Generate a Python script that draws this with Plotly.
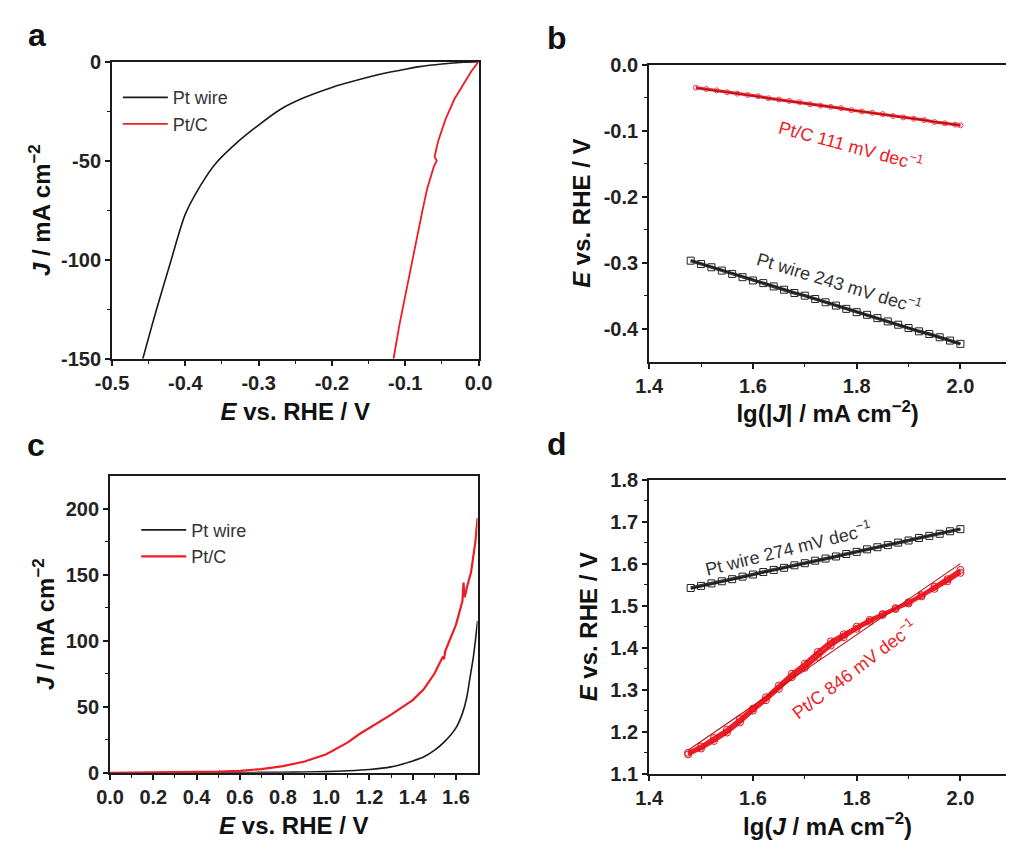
import plotly.graph_objects as go

# ---------------- panel a: HER polarization curves ----------------
a_e_wire = [0.0, -0.02, -0.05, -0.08, -0.10, -0.13, -0.16, -0.20, -0.24, -0.27,
            -0.30, -0.33, -0.36, -0.38, -0.40, -0.42, -0.44, -0.458]
a_j_wire = [0, -0.3, -1.2, -2.5, -3.8, -6.0, -8.8, -13.0, -18.5, -24,
            -32, -41, -52, -63, -77, -101, -126, -150]
a_e_ptc = [0.0, -0.01, -0.02, -0.033, -0.045, -0.055, -0.060, -0.057, -0.061,
           -0.07, -0.077, -0.085, -0.093, -0.10, -0.108, -0.116]
a_j_ptc = [0, -5, -11, -19, -29, -40, -48, -50, -53,
           -64, -76, -91, -106, -118, -133, -150]

# ---------------- panel b: HER Tafel plots ----------------
b_lg_wire = [1.48, 1.50, 1.52, 1.54, 1.56, 1.58, 1.60, 1.62, 1.64, 1.66, 1.68, 1.70,
             1.72, 1.74, 1.76, 1.78, 1.80, 1.82, 1.84, 1.86, 1.88, 1.90, 1.92, 1.94,
             1.96, 1.98, 2.00]
b_e_wire = [-0.297, -0.302, -0.307, -0.312, -0.317, -0.322, -0.327, -0.331, -0.336,
            -0.341, -0.346, -0.350, -0.355, -0.360, -0.365, -0.370, -0.375, -0.379,
            -0.384, -0.389, -0.394, -0.399, -0.404, -0.408, -0.413, -0.418, -0.423]
b_lg_ptc = [1.49, 1.51, 1.53, 1.55, 1.57, 1.59, 1.61, 1.63, 1.65, 1.67, 1.69, 1.71,
            1.73, 1.75, 1.77, 1.79, 1.81, 1.83, 1.85, 1.87, 1.89, 1.91, 1.93, 1.95,
            1.97, 1.99, 2.00]
b_e_ptc = [-0.035, -0.037, -0.039, -0.042, -0.044, -0.046, -0.048, -0.051, -0.053,
           -0.055, -0.057, -0.060, -0.062, -0.064, -0.066, -0.069, -0.071, -0.073,
           -0.075, -0.078, -0.080, -0.082, -0.084, -0.087, -0.089, -0.091, -0.092]
b_slope_wire = 243   # mV dec-1
b_slope_ptc = 111    # mV dec-1
b_fit_end_wire = -0.423   # fitted E at lg|J| = 2.0
b_fit_end_ptc = -0.092

# ---------------- panel c: OER polarization curves ----------------
c_e_wire = [0.0, 0.2, 0.4, 0.6, 0.8, 0.9, 1.0, 1.1, 1.2, 1.3, 1.35, 1.4, 1.45, 1.5,
            1.55, 1.6, 1.63, 1.65, 1.665, 1.68, 1.69, 1.70]
c_j_wire = [0, 0.05, 0.1, 0.2, 0.4, 0.6, 0.9, 1.5, 2.5, 4.5, 6.5, 9, 12, 17,
            24, 34, 45, 57, 72, 87, 100, 115]
c_e_ptc = [0.0, 0.2, 0.4, 0.5, 0.6, 0.7, 0.8, 0.9, 1.0, 1.1, 1.15, 1.2, 1.3, 1.4,
           1.45, 1.5, 1.54, 1.545, 1.55, 1.6, 1.63, 1.635, 1.64, 1.645, 1.65, 1.67,
           1.69, 1.70]
c_j_ptc = [0, 0.2, 0.5, 0.9, 1.5, 2.8, 5, 8.5, 14, 23, 29, 34, 44, 55,
           63, 75, 88, 86, 92, 112, 130, 144, 133, 136, 140, 152, 175, 193]

# ---------------- panel d: OER Tafel plots ----------------
d_lg_wire = [1.48, 1.50, 1.52, 1.54, 1.56, 1.58, 1.60, 1.62, 1.64, 1.66, 1.68, 1.70,
             1.72, 1.74, 1.76, 1.78, 1.80, 1.82, 1.84, 1.86, 1.88, 1.90, 1.92, 1.94,
             1.96, 1.98, 2.00]
d_e_wire = [1.542, 1.547, 1.553, 1.558, 1.563, 1.569, 1.574, 1.580, 1.585, 1.590,
            1.596, 1.601, 1.607, 1.612, 1.617, 1.623, 1.628, 1.634, 1.639, 1.644,
            1.650, 1.655, 1.661, 1.666, 1.671, 1.677, 1.682]
d_lg_ptc = [1.475, 1.50, 1.525, 1.55, 1.575, 1.60, 1.625, 1.65, 1.675, 1.70, 1.725,
            1.75, 1.775, 1.80, 1.825, 1.85, 1.875, 1.90, 1.925, 1.95, 1.975, 2.0]
d_e_ptc_scan1 = [1.146, 1.160, 1.178, 1.198, 1.222, 1.250, 1.275, 1.302, 1.330, 1.352,
                 1.378, 1.405, 1.425, 1.445, 1.462, 1.478, 1.492, 1.505, 1.522, 1.540,
                 1.558, 1.578]
d_e_ptc_scan2 = [1.150, 1.165, 1.185, 1.205, 1.230, 1.255, 1.282, 1.310, 1.338, 1.362,
                 1.390, 1.415, 1.432, 1.450, 1.466, 1.480, 1.494, 1.508, 1.525, 1.545,
                 1.563, 1.585]
d_slope_wire = 274   # mV dec-1
d_slope_ptc = 846    # mV dec-1
d_fit_end_wire = 1.683
d_fit_end_ptc = 1.600

# ---------------- tick labels ----------------
a_xticks = [-0.5, -0.4, -0.3, -0.2, -0.1, 0.0]
a_xlabels = ["-0.5", "-0.4", "-0.3", "-0.2", "-0.1", "0.0"]
a_yticks = [0, -50, -100, -150]
a_ylabels = ["0", "-50", "-100", "-150"]
b_xticks = [1.4, 1.6, 1.8, 2.0]
b_xlabels = ["1.4", "1.6", "1.8", "2.0"]
b_yticks = [0.0, -0.1, -0.2, -0.3, -0.4]
b_ylabels = ["0.0", "-0.1", "-0.2", "-0.3", "-0.4"]
c_xticks = [0.0, 0.2, 0.4, 0.6, 0.8, 1.0, 1.2, 1.4, 1.6]
c_xlabels = ["0.0", "0.2", "0.4", "0.6", "0.8", "1.0", "1.2", "1.4", "1.6"]
c_yticks = [0, 50, 100, 150, 200]
c_ylabels = ["0", "50", "100", "150", "200"]
d_yticks = [1.1, 1.2, 1.3, 1.4, 1.5, 1.6, 1.7, 1.8]
d_ylabels = ["1.1", "1.2", "1.3", "1.4", "1.5", "1.6", "1.7", "1.8"]

BLACK = "#1a1a1a"
RED = "#ee1c25"
FONT = "Liberation Sans, Arial, sans-serif"
W, H = 1020, 851


def dom_x(left, right):
    return [left / W, min(right / W, 1.0)]


def dom_y(top, bottom):
    return [1 - bottom / H, 1 - top / H]


def fit_line(x_ends, end_val, slope_mv, sign):
    # straight Tafel fit anchored at lg J = 2.0
    return [end_val + sign * slope_mv / 1000.0 * (x - 2.0) for x in x_ends]


fig = go.Figure()

# panel a
fig.add_trace(go.Scatter(x=a_e_wire, y=a_j_wire, mode="lines", name="Pt wire",
                         line=dict(color=BLACK, width=1.6, shape="spline", smoothing=0.8),
                         xaxis="x", yaxis="y", legend="legend"))
fig.add_trace(go.Scatter(x=a_e_ptc, y=a_j_ptc, mode="lines", name="Pt/C",
                         line=dict(color=RED, width=1.8), xaxis="x", yaxis="y",
                         legend="legend"))

# panel b
fit_x_b_wire = [b_lg_wire[0], 2.0]
fit_x_b_ptc = [b_lg_ptc[0], 2.0]
fig.add_trace(go.Scatter(x=b_lg_wire, y=b_e_wire, mode="lines+markers", showlegend=False,
                         line=dict(color="#3a3a3a", width=3.5),
                         marker=dict(symbol="square-open", size=7, color="#222222",
                                     line=dict(width=1)),
                         xaxis="x2", yaxis="y2"))
fig.add_trace(go.Scatter(x=fit_x_b_wire,
                         y=fit_line(fit_x_b_wire, b_fit_end_wire, b_slope_wire, -1),
                         mode="lines", showlegend=False,
                         line=dict(color=BLACK, width=1.2), xaxis="x2", yaxis="y2"))
fig.add_trace(go.Scatter(x=b_lg_ptc, y=b_e_ptc, mode="lines+markers", showlegend=False,
                         line=dict(color=RED, width=3),
                         marker=dict(symbol="circle-open", size=5, color="#f04048",
                                     line=dict(width=1)),
                         xaxis="x2", yaxis="y2"))
fig.add_trace(go.Scatter(x=fit_x_b_ptc,
                         y=fit_line(fit_x_b_ptc, b_fit_end_ptc, b_slope_ptc, -1),
                         mode="lines", showlegend=False,
                         line=dict(color="#b0101a", width=1.2), xaxis="x2", yaxis="y2"))

# panel c
fig.add_trace(go.Scatter(x=c_e_wire, y=c_j_wire, mode="lines", name="Pt wire",
                         line=dict(color=BLACK, width=1.6, shape="spline", smoothing=0.6),
                         xaxis="x3", yaxis="y3", legend="legend2"))
fig.add_trace(go.Scatter(x=c_e_ptc, y=c_j_ptc, mode="lines", name="Pt/C",
                         line=dict(color=RED, width=2.2), xaxis="x3", yaxis="y3",
                         legend="legend2"))

# panel d
fit_x_d_wire = [d_lg_wire[0], 2.0]
fit_x_d_ptc = [d_lg_ptc[0], 2.0]
fig.add_trace(go.Scatter(x=d_lg_wire, y=d_e_wire, mode="lines+markers", showlegend=False,
                         line=dict(color="#3a3a3a", width=3.5),
                         marker=dict(symbol="square-open", size=7, color="#222222",
                                     line=dict(width=1)),
                         xaxis="x4", yaxis="y4"))
fig.add_trace(go.Scatter(x=fit_x_d_wire,
                         y=fit_line(fit_x_d_wire, d_fit_end_wire, d_slope_wire, 1),
                         mode="lines", showlegend=False,
                         line=dict(color=BLACK, width=1.2), xaxis="x4", yaxis="y4"))
for scan in (d_e_ptc_scan1, d_e_ptc_scan2):
    fig.add_trace(go.Scatter(x=d_lg_ptc, y=scan, mode="lines+markers", showlegend=False,
                             line=dict(color=RED, width=3.5),
                             marker=dict(symbol="circle-open", size=7, color="#e0101c",
                                         line=dict(width=1)),
                             xaxis="x4", yaxis="y4"))
fig.add_trace(go.Scatter(x=fit_x_d_ptc,
                         y=fit_line(fit_x_d_ptc, d_fit_end_ptc, d_slope_ptc, 1),
                         mode="lines", showlegend=False,
                         line=dict(color="#c0101a", width=1.2), xaxis="x4", yaxis="y4"))

tickfont = dict(family=FONT, size=20, color="#222222", weight="bold")
titlefont = dict(family=FONT, size=24, color="#111111", weight="bold")


def axis(domain, rng, tickvals, ticktext, minor_vals, title, anchor, standoff,
         mirror=True):
    return dict(domain=domain, range=rng, anchor=anchor,
                tickmode="array", tickvals=tickvals, ticktext=ticktext,
                ticks="outside", ticklen=5, tickwidth=1.5, tickcolor=BLACK,
                minor=dict(tickmode="array", tickvals=minor_vals, ticks="outside",
                           ticklen=3, tickwidth=1.2, tickcolor=BLACK),
                showline=True, linecolor=BLACK, linewidth=2, mirror=mirror,
                showgrid=False, zeroline=False, tickfont=tickfont,
                title=dict(text=title, font=titlefont, standoff=standoff))


E_TITLE = "<i>E</i> vs. RHE / V"
J_TITLE = "<i>J</i> / mA cm<sup>−2</sup>"

fig.update_layout(
    width=W, height=H, margin=dict(l=0, r=0, t=0, b=0),
    paper_bgcolor="white", plot_bgcolor="white",
    font=dict(family=FONT),
    xaxis=axis(dom_x(98, 476), [-0.5, 0.0], a_xticks, a_xlabels,
               [-0.45, -0.35, -0.25, -0.15, -0.05], E_TITLE, "y", 10),
    yaxis=axis(dom_y(52, 357), [-150, 0], a_yticks, a_ylabels,
               [-25, -75, -125], J_TITLE, "x", 4),
    xaxis2=axis(dom_x(652, 1020), [1.4, 1.4 + (1020 - 652) / 535.0], b_xticks, b_xlabels,
                [1.5, 1.7, 1.9], "lg(|<i>J</i>| / mA cm<sup>−2</sup>)", "y2", 10),
    yaxis2=axis(dom_y(55, 360), [-0.45, 0.0], b_yticks, b_ylabels,
                [-0.05, -0.15, -0.25, -0.35], E_TITLE, "x2", 6, mirror=False),
    xaxis3=axis(dom_x(96, 475), [0.0, 1.7], c_xticks, c_xlabels,
                [0.1, 0.3, 0.5, 0.7, 0.9, 1.1, 1.3, 1.5], E_TITLE, "y3", 10),
    yaxis3=axis(dom_y(477, 782), [0, 225], c_yticks, c_ylabels,
                [25, 75, 125, 175], J_TITLE, "x3", 4),
    xaxis4=axis(dom_x(652, 1020), [1.4, 1.4 + (1020 - 652) / 535.0], b_xticks, b_xlabels,
                [1.5, 1.7, 1.9], "lg(<i>J</i> / mA cm<sup>−2</sup>)", "y4", 10),
    yaxis4=axis(dom_y(481, 783), [1.1, 1.8], d_yticks, d_ylabels,
                [1.15, 1.25, 1.35, 1.45, 1.55, 1.65, 1.75], E_TITLE, "x4", 6,
                mirror=False),
    legend=dict(x=104 / W, y=1 - 70 / H, xanchor="left", yanchor="top",
                bgcolor="rgba(0,0,0,0)", itemwidth=45, tracegroupgap=0,
                font=dict(family=FONT, size=18, color="#333333")),
    legend2=dict(x=123 / W, y=1 - 514 / H, xanchor="left", yanchor="top",
                 bgcolor="rgba(0,0,0,0)", itemwidth=45, tracegroupgap=0,
                 font=dict(family=FONT, size=18, color="#333333")),
)

# panel letters
for letter, px, py in [("a", 21, 25), ("b", 557, 28), ("c", 20, 446), ("d", 557, 445)]:
    fig.add_annotation(text=f"<b>{letter}</b>", x=px / W, y=1 - py / H, xref="paper",
                       yref="paper", showarrow=False, xanchor="center", yanchor="middle",
                       font=dict(family=FONT, size=32, color="#111111"))

# Tafel slope labels
slope_labels = [
    (f"Pt/C {b_slope_ptc} mV dec<sup>−1</sup>", "x2", "y2", 1.79, -0.122, 15, RED),
    (f"Pt wire {b_slope_wire} mV dec<sup>−1</sup>", "x2", "y2", 1.765, -0.330, 17, "#333333"),
    (f"Pt wire {d_slope_wire} mV dec<sup>−1</sup>", "x4", "y4", 1.667, 1.636, -14, "#333333"),
    (f"Pt/C {d_slope_ptc} mV dec<sup>−1</sup>", "x4", "y4", 1.794, 1.348, -37, RED),
]
for text, xr, yr, xv, yv, ang, col in slope_labels:
    fig.add_annotation(text=text, x=xv, y=yv, xref=xr, yref=yr, showarrow=False,
                       textangle=ang, font=dict(family=FONT, size=18, color=col))

fig.write_html("out.html")
